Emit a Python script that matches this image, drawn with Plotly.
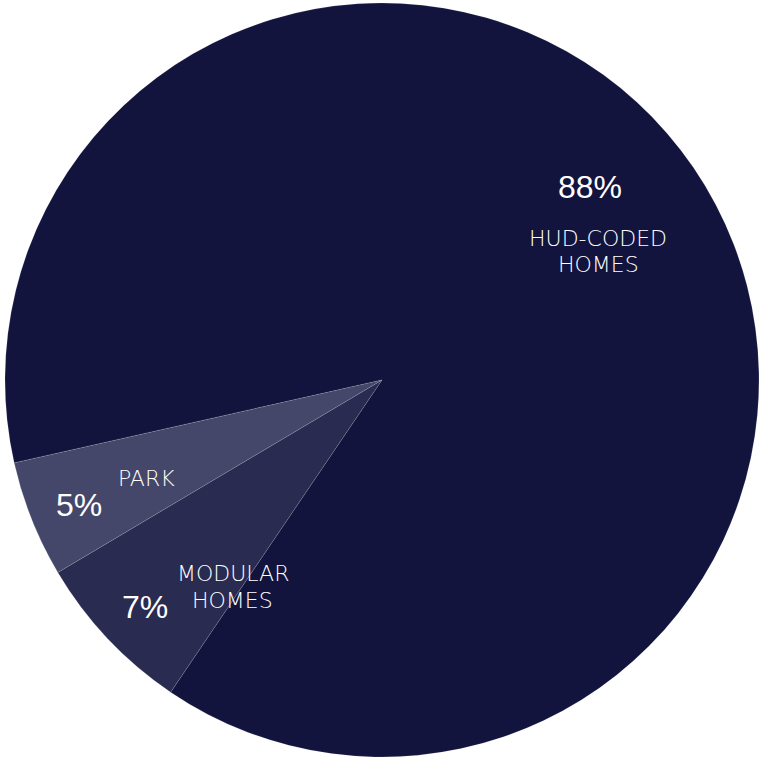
import plotly.graph_objects as go

# Data
categories = ["HUD-CODED HOMES", "MODULAR HOMES", "PARK"]
label_lines = [["HUD-CODED", "HOMES"], ["MODULAR", "HOMES"], ["PARK"]]
values = [88, 7, 5]
pct_text = ["88%", "7%", "5%"]

# Styling
colors = ["#12143E", "#2A2B51", "#45476A"]
W, H = 762, 757
# label anchor positions in pixels (styling)
pct_pos = [(590, 187), (145, 607), (79, 505)]
name_pos = [(598, 238), (233, 573), (146, 478)]
line_gap = 27

fig = go.Figure(go.Pie(
    labels=categories,
    values=values,
    sort=False,
    direction="clockwise",
    rotation=257.3,
    marker=dict(colors=colors, line=dict(color="rgba(255,255,255,0.15)", width=0.8)),
    textinfo="none",
    hoverinfo="label+percent",
    domain=dict(x=[5 / W, 759 / W], y=[0, 1 - 3 / H]),
    showlegend=False,
))

annotations = []
for i in range(len(categories)):
    px, py = pct_pos[i]
    annotations.append(dict(
        x=px / W, y=1 - py / H, xref="paper", yref="paper",
        text=pct_text[i], showarrow=False, xanchor="center", yanchor="middle",
        font=dict(family="Liberation Sans, Arial", size=32, color="white"),
    ))
    nx, ny = name_pos[i]
    for j, line in enumerate(label_lines[i]):
        annotations.append(dict(
            x=nx / W, y=1 - (ny + j * line_gap) / H, xref="paper", yref="paper",
            text=line, showarrow=False, xanchor="center", yanchor="middle",
            font=dict(family="DejaVu Sans ExtraLight, DejaVu Sans", size=22,
                      color="white", weight=200),
        ))

fig.update_layout(
    width=W, height=H,
    margin=dict(l=0, r=0, t=0, b=0),
    paper_bgcolor="white",
    plot_bgcolor="white",
    annotations=annotations,
)

fig.write_html("out.html", config={"displayModeBar": False},
               post_script="document.body.style.margin='0';")
